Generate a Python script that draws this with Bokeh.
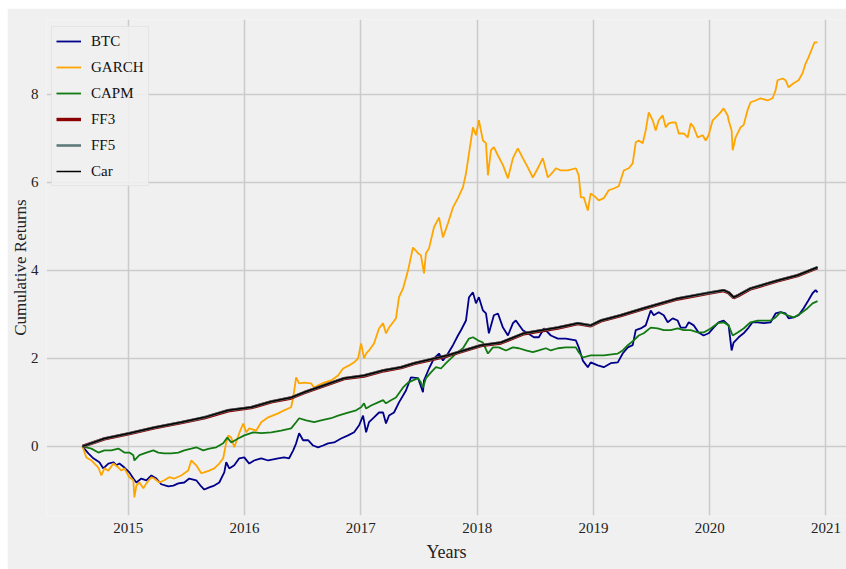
from bokeh.plotting import figure
from bokeh.models import FixedTicker
from bokeh.embed import file_html
from bokeh.resources import INLINE

year_ticks = [2015, 2016, 2017, 2018, 2019, 2020, 2021]
return_ticks = [0, 2, 4, 6, 8]

btc_x = [2014.605, 2014.656, 2014.699, 2014.751, 2014.785, 2014.828, 2014.871, 2014.897, 2014.923, 2014.966,
         2015.009, 2015.043, 2015.069, 2015.112, 2015.155, 2015.198, 2015.241, 2015.283, 2015.344, 2015.387,
         2015.430, 2015.481, 2015.524, 2015.584, 2015.627, 2015.653, 2015.696, 2015.739, 2015.782, 2015.825,
         2015.842, 2015.868, 2015.911, 2015.954, 2015.997, 2016.040, 2016.082, 2016.143, 2016.203, 2016.289,
         2016.340, 2016.383, 2016.418, 2016.443, 2016.469, 2016.503, 2016.546, 2016.589, 2016.632, 2016.675,
         2016.718, 2016.770, 2016.830, 2016.890, 2016.942, 2016.985, 2017.019, 2017.045, 2017.070, 2017.113,
         2017.156, 2017.191, 2017.216, 2017.242, 2017.285, 2017.328, 2017.388, 2017.431, 2017.492, 2017.534,
         2017.543, 2017.586, 2017.629, 2017.672, 2017.706, 2017.749, 2017.792, 2017.835, 2017.861, 2017.904,
         2017.930, 2017.964, 2017.990, 2018.015, 2018.050, 2018.076, 2018.101, 2018.144, 2018.179, 2018.222,
         2018.265, 2018.308, 2018.333, 2018.393, 2018.436, 2018.488, 2018.531, 2018.574, 2018.634, 2018.694,
         2018.763, 2018.849, 2018.874, 2018.909, 2018.952, 2018.977, 2019.038, 2019.089, 2019.149, 2019.210,
         2019.252, 2019.296, 2019.338, 2019.364, 2019.407, 2019.450, 2019.493, 2019.519, 2019.562, 2019.605,
         2019.639, 2019.682, 2019.725, 2019.751, 2019.794, 2019.820, 2019.863, 2019.905, 2019.948, 2019.991,
         2020.034, 2020.077, 2020.120, 2020.163, 2020.189, 2020.206, 2020.249, 2020.292, 2020.335, 2020.369,
         2020.412, 2020.464, 2020.524, 2020.567, 2020.610, 2020.653, 2020.679, 2020.722, 2020.765, 2020.808,
         2020.850, 2020.885, 2020.911, 2020.928]
btc_y = [0.00, -0.16, -0.27, -0.36, -0.50, -0.39, -0.36, -0.43, -0.39, -0.48,
         -0.59, -0.73, -0.82, -0.73, -0.77, -0.66, -0.73, -0.86, -0.91, -0.89,
         -0.84, -0.82, -0.73, -0.77, -0.91, -0.98, -0.93, -0.89, -0.82, -0.59,
         -0.36, -0.50, -0.43, -0.27, -0.25, -0.39, -0.32, -0.27, -0.32, -0.27,
         -0.25, -0.27, -0.09, 0.07, 0.30, 0.14, 0.14, 0.02, -0.02, 0.02,
         0.07, 0.09, 0.18, 0.25, 0.32, 0.48, 0.70, 0.32, 0.55, 0.66,
         0.77, 0.77, 0.52, 0.70, 0.77, 1.00, 1.27, 1.57, 1.55, 1.23,
         1.50, 1.77, 2.00, 2.11, 1.95, 2.11, 2.30, 2.52, 2.64, 2.86,
         3.39, 3.50, 3.25, 3.39, 3.09, 3.02, 2.57, 2.98, 3.02, 2.70,
         2.52, 2.80, 2.86, 2.64, 2.57, 2.48, 2.48, 2.68, 2.52, 2.45,
         2.45, 2.41, 2.25, 1.95, 1.80, 1.91, 1.84, 1.80, 1.89, 1.91,
         2.11, 2.25, 2.30, 2.64, 2.68, 2.75, 3.09, 2.98, 3.05, 2.98,
         2.82, 2.91, 2.86, 2.70, 2.70, 2.82, 2.75, 2.59, 2.52, 2.57,
         2.70, 2.82, 2.86, 2.75, 2.18, 2.36, 2.48, 2.57, 2.70, 2.82,
         2.82, 2.80, 2.82, 3.02, 3.05, 3.02, 2.91, 2.93, 2.98, 3.14,
         3.32, 3.48, 3.55, 3.50]

garch_x = [2014.605, 2014.639, 2014.682, 2014.742, 2014.768, 2014.794, 2014.828, 2014.871, 2014.914, 2014.940,
           2014.966, 2015.009, 2015.043, 2015.052, 2015.069, 2015.095, 2015.129, 2015.155, 2015.198, 2015.223,
           2015.266, 2015.309, 2015.352, 2015.395, 2015.455, 2015.515, 2015.541, 2015.584, 2015.627, 2015.653,
           2015.696, 2015.739, 2015.782, 2015.816, 2015.842, 2015.859, 2015.885, 2015.911, 2015.954, 2015.988,
           2016.014, 2016.040, 2016.100, 2016.143, 2016.203, 2016.289, 2016.340, 2016.400, 2016.418, 2016.443,
           2016.469, 2016.512, 2016.572, 2016.598, 2016.632, 2016.684, 2016.744, 2016.804, 2016.847, 2016.899,
           2016.942, 2016.976, 2017.002, 2017.027, 2017.045, 2017.070, 2017.113, 2017.156, 2017.191, 2017.216,
           2017.242, 2017.277, 2017.302, 2017.328, 2017.363, 2017.406, 2017.448, 2017.492, 2017.517, 2017.543,
           2017.560, 2017.586, 2017.629, 2017.672, 2017.706, 2017.749, 2017.792, 2017.835, 2017.878, 2017.904,
           2017.930, 2017.964, 2017.990, 2018.015, 2018.050, 2018.076, 2018.093, 2018.119, 2018.144, 2018.179,
           2018.222, 2018.265, 2018.308, 2018.350, 2018.393, 2018.436, 2018.479, 2018.522, 2018.565, 2018.608,
           2018.651, 2018.677, 2018.720, 2018.780, 2018.849, 2018.874, 2018.892, 2018.917, 2018.952, 2018.977,
           2019.020, 2019.046, 2019.089, 2019.132, 2019.175, 2019.218, 2019.261, 2019.304, 2019.338, 2019.364,
           2019.390, 2019.424, 2019.450, 2019.476, 2019.510, 2019.536, 2019.562, 2019.596, 2019.622, 2019.648,
           2019.682, 2019.708, 2019.734, 2019.777, 2019.811, 2019.837, 2019.863, 2019.897, 2019.940, 2019.966,
           2019.991, 2020.026, 2020.069, 2020.094, 2020.120, 2020.155, 2020.163, 2020.189, 2020.198, 2020.223,
           2020.266, 2020.292, 2020.326, 2020.352, 2020.395, 2020.438, 2020.498, 2020.541, 2020.567, 2020.584,
           2020.627, 2020.653, 2020.679, 2020.722, 2020.765, 2020.799, 2020.825, 2020.850, 2020.885, 2020.902,
           2020.928]
garch_y = [0.00, -0.25, -0.32, -0.48, -0.66, -0.50, -0.55, -0.39, -0.48, -0.55,
           -0.50, -0.70, -0.77, -1.16, -0.89, -0.82, -0.95, -0.84, -0.70, -0.73,
           -0.82, -0.77, -0.70, -0.73, -0.66, -0.55, -0.32, -0.43, -0.61, -0.59,
           -0.55, -0.50, -0.39, -0.27, 0.09, 0.25, 0.20, -0.02, 0.30, 0.52,
           0.32, 0.41, 0.36, 0.55, 0.66, 0.75, 0.82, 0.89, 1.11, 1.57,
           1.43, 1.45, 1.43, 1.34, 1.39, 1.45, 1.50, 1.61, 1.77, 1.84,
           1.91, 2.00, 2.34, 2.00, 2.11, 2.18, 2.34, 2.68, 2.80, 2.57,
           2.70, 2.82, 2.91, 3.39, 3.59, 4.00, 4.52, 4.39, 4.34, 3.93,
           4.39, 4.50, 4.98, 5.20, 4.75, 5.07, 5.43, 5.64, 5.89, 6.20,
           6.66, 7.25, 7.07, 7.41, 6.95, 6.89, 6.16, 6.73, 6.80, 6.61,
           6.39, 6.09, 6.55, 6.77, 6.55, 6.34, 6.11, 6.32, 6.55, 6.11,
           6.23, 6.32, 6.27, 6.27, 6.32, 6.16, 5.66, 5.66, 5.36, 5.75,
           5.66, 5.59, 5.64, 5.82, 5.86, 5.91, 6.27, 6.32, 6.43, 6.91,
           6.95, 6.89, 7.18, 7.59, 7.41, 7.18, 7.41, 7.52, 7.25, 7.34,
           7.36, 7.36, 7.11, 7.11, 7.02, 7.34, 7.25, 7.02, 7.07, 6.95,
           7.07, 7.41, 7.52, 7.59, 7.68, 7.52, 7.41, 7.18, 6.73, 7.02,
           7.25, 7.30, 7.64, 7.82, 7.86, 7.91, 7.86, 7.91, 8.09, 8.32,
           8.36, 8.32, 8.16, 8.25, 8.32, 8.48, 8.70, 8.84, 9.07, 9.18,
           9.18]

capm_x = [2014.605, 2014.682, 2014.742, 2014.794, 2014.854, 2014.914, 2014.966, 2015.009, 2015.043, 2015.052,
          2015.095, 2015.155, 2015.215, 2015.258, 2015.309, 2015.369, 2015.430, 2015.481, 2015.541, 2015.584,
          2015.644, 2015.696, 2015.756, 2015.816, 2015.851, 2015.885, 2015.945, 2015.997, 2016.074, 2016.143,
          2016.229, 2016.314, 2016.400, 2016.443, 2016.469, 2016.529, 2016.598, 2016.658, 2016.744, 2016.804,
          2016.890, 2016.959, 2017.002, 2017.027, 2017.045, 2017.088, 2017.148, 2017.191, 2017.216, 2017.259,
          2017.302, 2017.363, 2017.406, 2017.448, 2017.492, 2017.517, 2017.534, 2017.560, 2017.603, 2017.646,
          2017.689, 2017.732, 2017.775, 2017.818, 2017.878, 2017.930, 2017.964, 2018.007, 2018.050, 2018.093,
          2018.136, 2018.187, 2018.247, 2018.308, 2018.359, 2018.419, 2018.479, 2018.531, 2018.591, 2018.634,
          2018.694, 2018.763, 2018.849, 2018.874, 2018.909, 2018.977, 2019.089, 2019.210, 2019.252, 2019.296,
          2019.347, 2019.390, 2019.433, 2019.493, 2019.553, 2019.605, 2019.665, 2019.725, 2019.777, 2019.837,
          2019.897, 2019.948, 2020.009, 2020.069, 2020.120, 2020.163, 2020.198, 2020.241, 2020.292, 2020.352,
          2020.412, 2020.464, 2020.524, 2020.567, 2020.610, 2020.670, 2020.722, 2020.782, 2020.842, 2020.885,
          2020.928]
capm_y = [0.00, -0.05, -0.14, -0.09, -0.09, -0.05, -0.14, -0.14, -0.20, -0.32,
          -0.20, -0.14, -0.09, -0.14, -0.16, -0.16, -0.14, -0.09, -0.05, -0.02,
          -0.09, -0.05, -0.02, 0.07, 0.20, 0.09, 0.18, 0.25, 0.32, 0.30,
          0.32, 0.36, 0.41, 0.55, 0.64, 0.59, 0.55, 0.59, 0.64, 0.70,
          0.77, 0.82, 0.89, 0.98, 0.86, 0.93, 1.00, 1.05, 0.98, 1.05,
          1.11, 1.34, 1.45, 1.50, 1.55, 1.45, 1.34, 1.55, 1.68, 1.80,
          1.77, 1.89, 2.00, 2.11, 2.23, 2.45, 2.48, 2.41, 2.36, 2.11,
          2.25, 2.25, 2.18, 2.25, 2.23, 2.18, 2.14, 2.18, 2.23, 2.18,
          2.23, 2.25, 2.25, 2.14, 2.02, 2.07, 2.07, 2.11, 2.18, 2.30,
          2.41, 2.52, 2.57, 2.70, 2.68, 2.64, 2.64, 2.68, 2.64, 2.64,
          2.59, 2.59, 2.68, 2.80, 2.82, 2.75, 2.52, 2.59, 2.68, 2.82,
          2.86, 2.86, 2.86, 2.93, 3.05, 2.98, 2.93, 3.02, 3.14, 3.25,
          3.30]

factor_x = [2014.605, 2014.794, 2015.009, 2015.223, 2015.455, 2015.653, 2015.859, 2016.057, 2016.229, 2016.400,
            2016.512, 2016.684, 2016.856, 2017.027, 2017.199, 2017.345, 2017.457, 2017.749, 2018.033, 2018.204,
            2018.402, 2018.694, 2018.866, 2018.977, 2019.064, 2019.235, 2019.433, 2019.725, 2020.009, 2020.120,
            2020.163, 2020.206, 2020.241, 2020.352, 2020.584, 2020.756, 2020.928]
ff3_y = [0.00, 0.17, 0.29, 0.42, 0.54, 0.65, 0.81, 0.88, 1.01, 1.10,
         1.22, 1.38, 1.54, 1.60, 1.72, 1.79, 1.88, 2.06, 2.29, 2.35,
         2.56, 2.69, 2.79, 2.74, 2.85, 2.97, 3.13, 3.35, 3.49, 3.54,
         3.49, 3.38, 3.42, 3.58, 3.76, 3.88, 4.06]
ff5_y = [0.00, 0.18, 0.30, 0.43, 0.55, 0.66, 0.82, 0.89, 1.02, 1.11,
         1.23, 1.39, 1.55, 1.61, 1.73, 1.80, 1.89, 2.07, 2.30, 2.36,
         2.57, 2.70, 2.80, 2.75, 2.86, 2.98, 3.14, 3.36, 3.50, 3.55,
         3.50, 3.39, 3.43, 3.59, 3.77, 3.89, 4.07]
car_y = [0.00, 0.18, 0.30, 0.43, 0.55, 0.66, 0.82, 0.89, 1.02, 1.11,
         1.23, 1.39, 1.55, 1.61, 1.73, 1.80, 1.89, 2.07, 2.30, 2.36,
         2.57, 2.70, 2.80, 2.75, 2.86, 2.98, 3.14, 3.36, 3.50, 3.55,
         3.50, 3.39, 3.43, 3.59, 3.77, 3.89, 4.07]

FONT = "Liberation Serif"
BG = "#f0f0f0"

p = figure(width=839, height=561, output_backend="svg", toolbar_location=None,
           margin=(8, 0, 0, 7),
           x_range=(2014.296, 2021.177), y_range=(-1.57, 9.70),
           background_fill_color=BG, border_fill_color=BG,
           min_border_left=38, min_border_right=0, min_border_top=11, min_border_bottom=54)
p.outline_line_color = None

p.line(btc_x, btc_y, color="#00008b", line_width=1.8, legend_label="BTC")
p.line(garch_x, garch_y, color="#ffa500", line_width=1.8, legend_label="GARCH")
p.line(capm_x, capm_y, color="#137a13", line_width=1.8, legend_label="CAPM")
p.line(factor_x, ff3_y, color="#8b0000", line_width=3.4, legend_label="FF3")
p.line(factor_x, ff5_y, color="#5f7b7b", line_width=2.6, legend_label="FF5")
p.line(factor_x, car_y, color="#000000", line_width=1.5, legend_label="Car")

p.xaxis.ticker = FixedTicker(ticks=year_ticks)
p.yaxis.ticker = FixedTicker(ticks=return_ticks)
for ax in (p.xaxis[0], p.yaxis[0]):
    ax.axis_line_color = None
    ax.major_tick_line_color = None
    ax.minor_tick_line_color = None
    ax.major_tick_out = 0
    ax.major_tick_in = 0
    ax.minor_tick_out = 0
    ax.minor_tick_in = 0
    ax.major_label_text_font = FONT
    ax.major_label_text_font_size = "15px"
    ax.major_label_text_color = "#222222"
    ax.axis_label_text_font = FONT
    ax.axis_label_text_font_style = "normal"
    ax.axis_label_text_color = "#222222"
p.xaxis.axis_label = "Years"
p.xaxis.axis_label_text_font_size = "18px"
p.xaxis.major_label_standoff = 7
p.xaxis.axis_label_standoff = 6
p.yaxis.axis_label = "Cumulative Returns"
p.yaxis.axis_label_text_font_size = "17px"
p.yaxis.major_label_standoff = 8
p.yaxis.axis_label_standoff = -2

p.grid.grid_line_color = "#cbcbcb"
p.grid.grid_line_width = 1.5

lg = p.legend[0]
lg.location = (5, 329)
lg.margin = 0
lg.padding = 4
lg.spacing = 6
lg.label_height = 20
lg.glyph_height = 20
lg.glyph_width = 25
lg.label_standoff = 10
lg.label_text_font = FONT
lg.label_text_font_size = "15px"
lg.label_text_color = "#111111"
lg.background_fill_color = BG
lg.background_fill_alpha = 0.9
lg.border_line_color = "#dadada"
lg.border_line_width = 1

open("out.html", "w").write(file_html(p, INLINE))
